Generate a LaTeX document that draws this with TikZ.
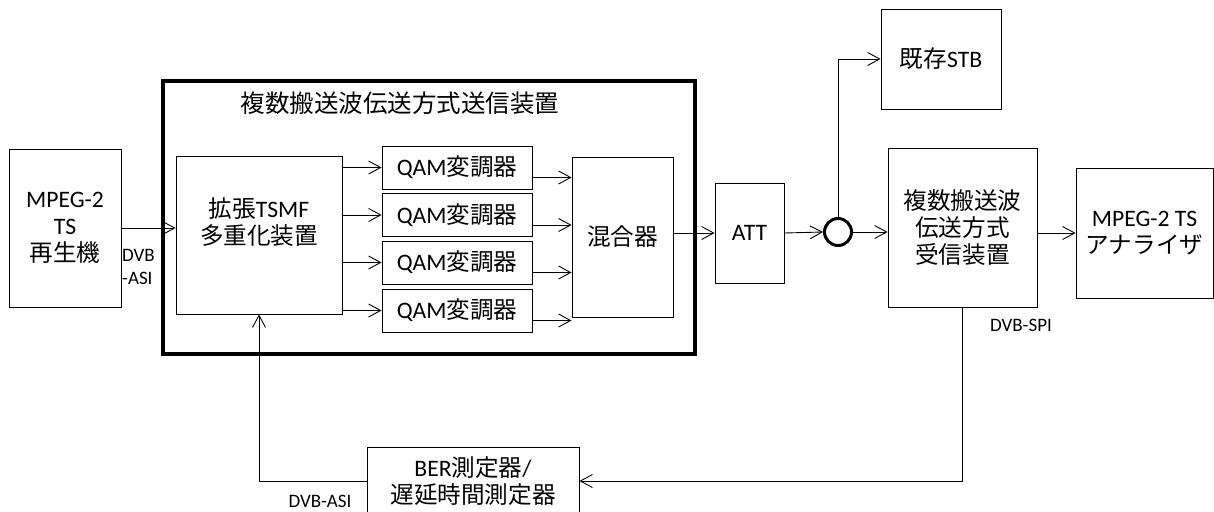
\documentclass[tikz,border=0pt]{standalone}
\usepackage{fontspec}
\setmainfont{Carlito}
\newfontfamily\jp{Noto Sans CJK JP}
\usetikzlibrary{arrows.meta}
\tikzset{
  blk/.style={draw=black, fill=white, line width=0.9pt, inner sep=2pt, align=center, font=\fontsize{23.6}{27}\selectfont},
  lbl/.style={inner sep=0pt, align=left, font=\fontsize{19}{23}\selectfont},
}

\begin{document}
\begin{tikzpicture}[x=1pt, y=-1pt,
  arr/.style={-{Straight Barb[length=12pt, width=13pt]}, line width=0.9pt},
  qam/.style={blk, minimum width=150pt, minimum height=43pt}]
\useasboundingbox (0,0) rectangle (1214,511);
\node[draw, line width=3.5pt, minimum width=532pt, minimum height=273pt] (tx) at (429,217.5) {};
\node[font=\fontsize{24.5}{28}\selectfont, inner sep=0pt] (txtitle) at (400,103) {\jp 複数搬送波伝送方式送信装置};
\node[blk, minimum width=112pt, minimum height=158pt] (player) at (65,228) {MPEG-2\\TS\\{\jp 再生機}};
\node[blk, minimum width=166pt, minimum height=158pt] (mux) at (259,235) {{\jp 拡張}TSMF\\{\jp 多重化装置}\\\rule{0pt}{0pt}};
\node[qam] (q1) at (457,167.5) {QAM{\jp 変調器}};
\node[qam] (q2) at (457,215) {QAM{\jp 変調器}};
\node[qam] (q3) at (457,262.5) {QAM{\jp 変調器}};
\node[qam] (q4) at (457,310.5) {QAM{\jp 変調器}};
\node[blk, minimum width=101pt, minimum height=160pt] (mix) at (622.5,237) {\jp 混合器};
\node[blk, minimum width=69pt, minimum height=100pt] (att) at (749.5,233) {ATT};
\node[circle, draw, line width=3pt, minimum size=27pt, inner sep=0pt] (split) at (838,232) {};
\node[blk, minimum width=120pt, minimum height=100pt] (stb) at (941,59) {{\jp 既存}STB};
\node[blk, minimum width=149pt, minimum height=159pt] (rx) at (962.5,227.5) {\jp 複数搬送波\\\jp 伝送方式\\\jp 受信装置};
\node[blk, minimum width=137pt, minimum height=130pt] (ana) at (1144.5,233) {MPEG-2 TS\\{\jp アナライザ}};
\node[blk, minimum width=212pt, minimum height=68pt] (ber) at (473,481) {BER{\jp 測定器}/\\{\jp 遅延時間測定器}};
\node[lbl, anchor=west] (asi1) at (122,266.5) {DVB\\-ASI};
\node[lbl] (spi) at (1021,325) {DVB-SPI};
\node[lbl] (asi2) at (320,501) {DVB-ASI};
\draw[arr] (player.east) -- (player.east -| mux.west);
\foreach \q in {q1,q2,q3,q4} \draw[arr] (mux.east |- \q.west) -- (\q.west);
\foreach \q in {q1,q2,q3,q4} \draw[arr] ([yshift=-10pt]\q.east) -- ([yshift=-10pt]\q.east -| mix.west);
\draw[arr] (att.west -| mix.east) -- (att.west); \draw[arr] (att.east) -- (split.west);
\draw[arr] (split.north) |- (stb.west); \draw[arr] (split.east) -- (split.east -| rx.west);
\draw[arr] (rx.east |- ana.west) -- (ana.west);
\draw[arr] (rx.south) |- (ber.east); \draw[arr] (ber.west) -| (mux.south);
\end{tikzpicture}
\end{document}
